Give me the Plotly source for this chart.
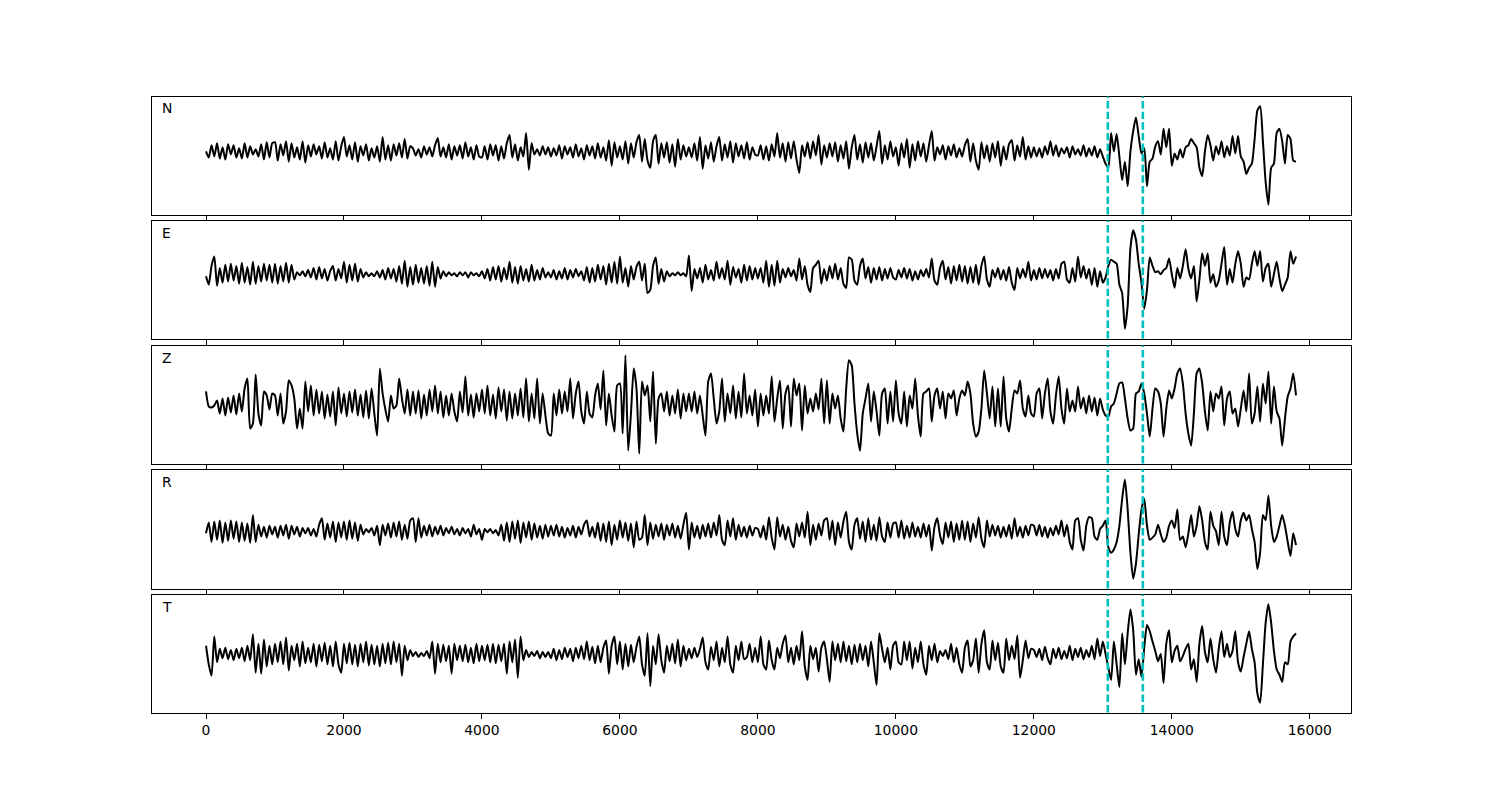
import plotly.graph_objects as go

components = ["N", "E", "Z", "R", "T"]
pick_times = [13072, 13580]
xtick_vals = [0, 2000, 4000, 6000, 8000, 10000, 12000, 14000, 16000]
block_len = 1000
last_block_len = 800

N_blocks = [
    [0,-6,6,-5,8,-7,4,-8,7,-3,6,-6,3,-7,8,-6,5,-3,2,-5,7,-8,9,-6,8],
    [9,-9,7,-4,10,-10,8,-6,4,-8,10,-11,6,-5,7,-3,5,-7,9,-6,3,-8,10,-9,5],
    [14,-5,6,-8,9,-10,5,-4,7,-9,3,-6,5,-10,14,-8,6,-9,7,-4,8,-6,12,-7,5],
    [3,-4,2,-6,5,-3,4,-5,6,13,-5,4,-6,7,-8,5,-4,6,-7,9,-5,4,-8,6,-5],
    [-6,5,-8,7,-4,6,-9,5,-7,8,16,-6,7,-9,4,-5,18,-18,8,-3,2,-4,5,-3,4],
    [-5,3,-4,6,-7,5,-3,4,-6,7,-5,3,-8,6,-4,5,-7,8,-6,4,-9,11,-14,9,-6],
    [5,-8,10,-12,8,-6,9,16,-10,12,-9,-16,10,16,-12,8,-6,9,-11,7,-15,12,-8,6,-5],
    [4,-6,8,-9,14,-17,6,-7,9,-10,5,14,-9,7,-6,10,-11,8,-5,6,-7,9,-8,4,-3],
    [-4,6,-8,5,-9,7,-5,18,-6,8,-10,9,-7,10,-8,-21,6,-5,9,-7,10,-4,16,-13,6],
    [-6,8,-5,9,-10,6,-7,10,-17,4,16,-8,7,-11,9,-6,8,-9,5,20,-12,6,-8,10,-5],
    [4,-14,8,-6,12,-16,7,-9,10,-5,8,-10,6,20,-9,4,-3,6,-8,5,-4,7,-6,3,-5],
    [6,12,-10,8,-9,-18,9,-7,6,-10,8,-6,10,-14,5,-8,7,11,-9,6,-5,14,-8,5,-6],
    [4,-5,3,-6,5,-3,10,-4,6,-5,3,-2,4,-6,5,-3,2,-4,6,-5,3,-4,5,-6,2],
    [-5,-12,-16,18,0,17,-5,-28,-10,-34,0,20,33,15,-2,3,-34,-10,-7,5,10,-3,22,4,22],
    [-14,-2,-8,2,-6,4,6,12,8,4,-16,-24,0,16,6,-9,5,-3,10,-6,5,-4,15,-2,15],
    [-5,-10,-22,-16,-12,12,40,44,10,-30,-52,-16,-12,18,22,10,-12,16,12,-9,-10],
]

E_blocks = [
    [-2,-10,8,17,-11,6,-8,9,-7,10,-6,8,-9,11,-8,7,-10,12,-9,8,-7,10,-6,9,-8],
    [10,-9,8,-7,11,-8,9,-5,2,-1,3,-2,4,-3,6,-5,7,-4,5,-6,3,8,-6,5,-4],
    [12,-8,9,-6,10,-7,5,-3,2,-2,1,-2,3,-3,4,-5,6,-4,5,-7,8,-9,13,-12,7],
    [-10,9,-8,6,-9,8,-11,12,-12,7,-4,3,-2,2,-1,1,-2,2,-1,2,-3,2,-1,1,-2],
    [3,-4,5,-6,7,-5,8,-7,6,-5,12,-8,7,-9,8,-6,5,-7,9,-6,4,-5,6,-3,2],
    [-3,4,-5,3,-4,6,-5,4,-3,5,-2,3,-6,7,-8,6,-7,9,-5,8,-10,10,-8,12,-9],
    [17,-8,6,-12,8,-5,7,12,-6,10,-18,-15,8,16,-9,5,-7,3,-2,1,-1,2,-1,1,-2],
    [18,-16,5,-4,6,-8,9,-5,4,-6,12,-4,6,-5,13,-10,7,-3,5,-8,9,-6,8,-5,6],
    [-4,6,-8,13,-12,9,-11,13,-8,5,-3,6,-2,4,-6,15,-5,8,-10,-17,6,9,13,-9,5],
    [-6,8,-4,10,-5,6,-9,-13,16,14,-6,-10,8,15,-4,7,-8,6,-5,7,-6,5,-4,6,-3],
    [-5,4,-3,6,-4,5,-6,3,-5,4,-2,5,-3,15,-6,-10,6,13,-5,7,-9,8,-6,9,-7],
    [8,-9,7,-8,9,-10,8,17,-5,-12,4,-3,6,-5,4,-6,7,-8,-15,6,-4,5,-3,12,-6],
    [4,-5,6,-4,5,-3,4,-6,5,-4,10,12,-5,-8,6,-7,17,-3,8,-4,5,-10,6,-12,3],
    [-8,-3,8,14,12,10,-10,-18,-52,-30,25,42,33,10,-8,-33,-15,16,8,2,3,0,4,6,15],
    [0,-13,6,-4,8,24,5,-4,8,-26,-5,20,8,20,-8,0,-12,-6,10,26,-10,5,-8,10,22],
    [10,-12,-3,-5,10,22,8,22,-7,6,10,-12,0,12,-4,-16,-10,-3,22,10,17],
]

Z_blocks = [
    [12,-3,-4,-2,3,-10,5,-12,6,-9,8,-11,10,-8,15,25,-25,-20,29,-10,-22,12,8,-6,10],
    [8,-12,10,-20,-8,23,18,5,-25,-5,-25,22,-8,18,-12,14,-10,12,-15,9,-13,12,-22,16,-10],
    [10,-13,12,-9,14,-12,9,-14,13,-15,15,-10,-32,35,10,-6,-18,8,-5,-2,25,5,-10,14,-12],
    [12,-10,13,-15,9,-12,14,-8,18,-10,12,-14,8,-12,10,-8,-18,12,-9,27,-12,9,-14,10,-8],
    [14,-10,18,-12,9,-15,16,-8,14,-17,12,-15,10,-12,15,-14,25,-18,10,-15,25,-20,10,-12,-30],
    [-32,10,-12,14,-10,12,-8,25,-15,10,22,-8,-20,12,-10,-14,8,20,-6,33,-22,10,-12,-28,18],
    [20,-30,48,-47,-10,35,15,-50,22,8,18,-18,32,-40,5,10,-8,12,-12,8,-10,14,-15,10,-8],
    [10,-8,12,-10,8,-12,-32,22,30,5,-20,-8,25,-18,10,-10,18,-15,12,-14,30,-10,8,-12,14],
    [-23,10,-12,8,-10,27,-18,5,23,-25,10,18,-23,25,8,20,-27,18,-10,5,-8,10,-6,25,-20],
    [23,-20,10,-5,8,-15,-28,15,43,38,0,-30,-47,-10,5,20,-18,12,-8,-32,10,15,-20,12,-18],
    [23,-10,-20,12,-23,8,-5,25,-12,-33,10,12,15,-18,8,15,-5,12,-15,10,5,13,-12,5,13],
    [8,22,10,-20,-33,-28,-5,33,10,-15,17,-23,15,-23,27,-15,-28,-5,13,10,23,-5,-13,8,-10],
    [-13,10,15,-15,10,25,-8,-20,8,27,-5,-20,15,-8,3,-8,17,-5,6,-10,8,-8,6,-12,5],
    [-6,-12,-13,-3,0,10,20,21,5,-15,-27,-25,10,12,20,10,-10,-33,-5,15,12,0,-33,-5,13],
    [5,15,30,35,20,-10,-30,-42,-10,30,35,20,-8,-27,12,-8,10,5,17,-22,5,12,-10,-5,-23],
    [-5,13,-8,30,-20,-10,17,-18,20,0,32,-20,17,-8,-15,-42,-15,7,15,30,8],
]

R_blocks = [
    [-2,8,-10,9,-8,10,-11,8,-9,10,-7,9,-10,8,-9,7,-11,15,-10,6,-5,4,-6,5,-3],
    [4,-6,5,-4,6,-7,5,-3,4,-5,3,-2,3,-4,2,-5,6,12,-8,7,-6,9,-10,8,-6],
    [9,-8,10,-7,8,-9,6,-3,2,-1,3,-4,5,-13,6,-4,7,-6,8,-5,9,-8,6,-7,10],
    [12,-10,12,-6,5,-4,6,-5,4,-3,5,-4,3,-2,4,-3,2,-4,3,-2,2,-5,6,-3,2],
    [-8,2,-1,2,-2,1,-4,6,-9,8,-10,9,-7,10,-11,8,-6,9,-8,7,-6,5,-7,6,-5],
    [5,-4,6,-5,4,-6,3,-4,5,-6,4,-3,6,10,-5,4,-6,8,-9,7,-10,9,-13,6,-8],
    [10,-6,8,-9,7,-15,9,-8,-6,15,-13,8,-7,6,-5,7,-8,6,-4,7,-6,5,-7,6,17],
    [-17,8,-6,5,-7,6,-5,7,-6,8,-4,15,-8,-13,10,-5,12,-8,6,-5,4,-6,5,-4,3],
    [2,-6,5,-8,13,-6,-17,13,-5,6,-8,4,-9,-15,7,-5,8,-6,18,-13,6,-8,7,-4,10],
    [12,-8,10,-13,8,-6,9,18,-10,-17,6,12,-7,9,-10,12,-8,6,-9,13,-5,-10,8,-6,7],
    [8,-6,10,-7,5,-6,8,-5,4,-6,7,-5,6,-18,4,12,-4,-12,8,-6,9,-10,7,-8,10],
    [-8,9,-10,7,-6,13,-7,-15,10,-5,6,-4,5,-6,4,-5,6,-7,12,-5,4,-6,5,-4,6],
    [5,-4,6,-5,4,-6,3,-4,5,-3,10,-5,6,-10,-17,10,12,-8,-18,5,13,12,-5,-8,2],
    [5,10,-15,-20,-17,-10,5,30,48,20,-20,-44,-30,-3,20,30,5,-8,-6,-3,6,-3,-10,-6,5],
    [10,3,20,-8,-5,-15,-2,15,-5,5,23,10,-10,-17,18,5,0,-13,18,-5,-13,8,18,2,-5],
    [10,17,10,15,2,-10,-35,-20,15,10,33,5,-10,-5,5,15,5,-10,-23,-2,-13],
]

T_blocks = [
    [8,-10,-21,17,-8,5,-4,6,-5,4,-6,5,-4,6,-7,8,-6,19,-18,10,-19,14,-12,8,-10],
    [10,-8,12,-10,16,-16,8,-6,10,-12,12,-9,6,-8,10,-12,9,-7,11,-10,8,-12,12,-10,-18],
    [10,-9,11,-10,9,-12,10,-8,12,-11,9,-10,8,-12,10,-9,11,-10,12,-8,10,-21,8,-6,4],
    [-2,2,-3,1,-2,3,-4,12,-19,10,-8,9,-7,8,-19,10,-6,8,-7,9,-8,6,-9,10,-7],
    [8,-6,9,-8,10,-9,9,-7,10,-19,12,-8,14,-23,17,-6,4,-3,2,-2,3,-4,2,-3,2],
    [-4,5,-6,4,-5,6,-3,5,-7,6,-4,8,-5,12,-6,7,-9,8,-8,6,13,-19,8,17,-10],
    [12,-15,10,-12,9,-8,7,17,-10,-21,20,-31,8,-10,19,-6,-18,8,-7,10,-9,14,-12,8,-6],
    [5,-4,6,-3,5,16,-8,-15,7,-6,12,-12,6,-8,17,-10,-18,8,-6,12,-5,-3,10,-8,6],
    [-8,17,-10,-15,13,-6,-15,6,-4,10,18,-8,6,-10,8,-6,22,-12,-25,8,-5,6,-17,6,12],
    [-5,-27,12,-6,10,-8,12,-7,8,-10,9,-8,10,-6,8,-12,12,-8,-30,20,5,-8,6,-15,8],
    [12,-8,-10,12,-6,12,-14,6,-8,12,-10,-20,8,-6,10,-8,3,-2,4,-5,10,-8,6,-10,-18],
    [6,13,-12,-6,15,-18,10,23,-8,-15,13,-6,11,-12,-18,15,-6,8,-5,18,-23,-6,13,-4,5],
    [4,-3,5,-6,7,-4,-10,5,-4,6,-5,3,-4,8,-6,5,-3,6,-5,4,-3,8,-5,15,-2],
    [12,0,-13,-25,12,-10,-32,20,-10,20,43,23,-20,-5,-22,6,28,22,12,3,-7,0,-28,10,23],
    [-8,3,8,-7,-2,5,10,-15,-5,-27,10,27,2,-8,15,-5,-18,5,22,-3,10,-3,3,22,-8],
    [-17,-3,10,22,5,-8,-38,-47,-10,30,48,30,3,-15,-20,-27,-8,-10,12,17,20],
]

all_blocks = [N_blocks, E_blocks, Z_blocks, R_blocks, T_blocks]


def unpack(blocks):
    t, y = [], []
    nb = len(blocks)
    for b, vals in enumerate(blocks):
        n = len(vals)
        for k, v in enumerate(vals):
            if b < nb - 1:
                t.append(b * block_len + k * block_len / n)
            else:
                t.append(b * block_len + k * last_block_len / (n - 1))
            y.append(v)
    return t, y


W, H = 1500, 800
OFF = 7.5  # page body margin compensation
x_dom = [(151 - OFF) / W, (1350 - OFF) / W]
panel_px = [(96, 214), (220, 338), (345, 463), (469, 588), (594, 712)]
x_range = [-790, 16590]

fig = go.Figure()
layout = dict(
    width=W, height=H,
    margin=dict(l=0, r=0, t=0, b=0),
    paper_bgcolor="white", plot_bgcolor="white",
    showlegend=False,
    font=dict(family="DejaVu Sans", size=14, color="black"),
)
shapes = []
annotations = []

for i, (comp, blocks) in enumerate(zip(components, all_blocks)):
    idx = i + 1
    sx = "" if idx == 1 else str(idx)
    t, y = unpack(blocks)
    fig.add_trace(go.Scatter(
        x=t, y=y, mode="lines",
        line=dict(color="black", width=2, shape="spline", smoothing=0.6),
        xaxis="x" + sx, yaxis="y" + sx, hoverinfo="skip",
    ))
    lo, hi = min(y), max(y)
    pad = 0.1 * (hi - lo)
    top, bot = panel_px[i]
    ydom = [1 - (bot - OFF) / H, 1 - (top - OFF) / H]
    layout["xaxis" + sx] = dict(
        domain=x_dom, anchor="y" + sx, range=x_range,
        showline=True, mirror=True, linecolor="black", linewidth=1,
        ticks="outside", ticklen=5, tickwidth=1, tickcolor="black",
        tickvals=xtick_vals, ticktext=[str(v) for v in xtick_vals],
        showticklabels=(idx == 5), tickfont=dict(size=13.9, family="DejaVu Sans"),
        showgrid=False, zeroline=False,
    )
    layout["yaxis" + sx] = dict(
        domain=ydom, anchor="x" + sx, range=[lo - pad, hi + pad],
        showline=True, mirror=True, linecolor="black", linewidth=1,
        ticks="", showticklabels=False, showgrid=False, zeroline=False,
    )
    for pt in pick_times:
        shapes.append(dict(
            type="line", xref="x" + sx, yref="y" + sx + " domain",
            x0=pt, x1=pt, y0=0, y1=1,
            line=dict(color="#00bfbf", width=2.6, dash="7.4px,3.2px"),
        ))
    annotations.append(dict(
        text=comp, xref="paper", yref="paper",
        x=(159 - OFF) / W, y=1 - (top + 12 - OFF) / H, xanchor="left", yanchor="middle",
        showarrow=False, font=dict(size=13.9, family="DejaVu Sans", color="black"),
    ))

layout["shapes"] = shapes
layout["annotations"] = annotations
fig.update_layout(**layout)
fig.write_html("out.html")
